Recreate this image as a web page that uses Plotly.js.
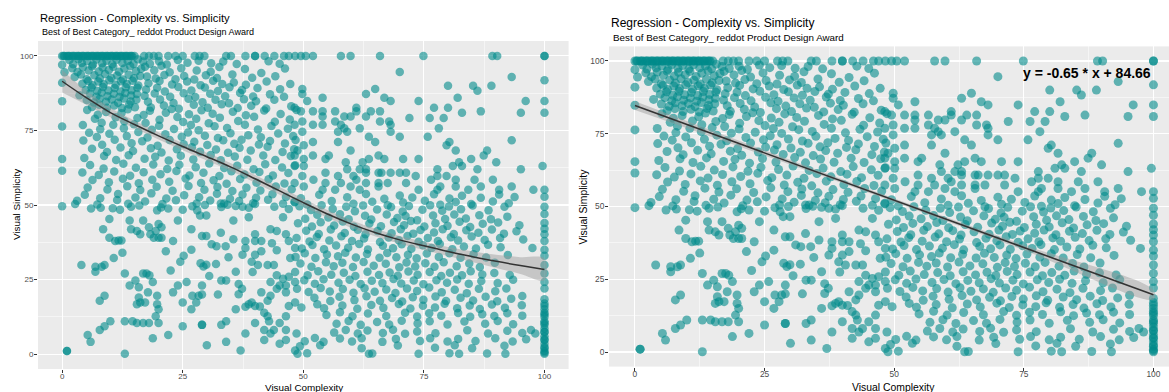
<!DOCTYPE html>
<html>
<head>
<meta charset="utf-8">
<script src="https://cdn.plot.ly/plotly-3.0.1.min.js"></script>
<style>
  html, body { margin: 0; padding: 0; background: #ffffff; }
  #chart { width: 1169px; height: 392px; }
</style>
</head>
<body>
<div id="chart"></div>
<script>
// Ratings: [visual complexity, visual simplicity]
const ratingsTop = [
  [0,100],[0.5,100],[1,100],[1.5,100],[2,100],[2.5,100],[3,100],[3.5,100],[4,100],[4.5,100],[5,100],[5.5,100],
  [6,100],[6.5,100],[7,100],[7.5,100],[8,100],[8.5,100],[9,100],[9.5,100],[10,100],[10.5,100],[11,100],[11.5,100],
  [12,100],[12.5,100],[13,100],[13.5,100],[14,100],[14.5,100],[15,100],[0.3,100],[1.3,100],[2.3,100],[3.3,100],[4.3,100],
  [5.3,100],[6.3,100],[7.3,100],[8.3,100],[9.3,100],[10.3,100],[11.3,100],[12.3,100],[13.3,100],[14.3,100],
  [17,100],[18,100],[19,100],[20,100],[22,100],
  [23.5,100],[25,100],[27.5,100],[28.5,100],[29.5,100],[34,100],[35,100],[38,100],[40,100],[40,100],[42,100],[44,100],
  [46,100],[47,100],[48.3,100],[49.5,100],[50.5,100],[52,100],[57.8,100],[59.8,100],[65.9,100],[74.9,100],[89.2,100],[90.2,100]
];

const ratingsUpperLeft = [
  [0,97],[0.5,94.5],[0,91],[0,84.8],
  [1.5,98.6],[2.3,97.2],[3.4,98.9],[4.1,97.6],[5.2,98.3],[6.4,97.1],[7.1,98.8],[8.3,97.5],[9.2,98.4],[10.4,97.2],[11.3,98.7],[12.5,97.6],[13.6,98.3],[14.8,97.3],[15.7,98.9],
  [2.1,95.9],[3.2,94.6],[4.3,96.2],[5.5,95.1],[6.2,96.5],[7.6,94.8],[8.4,96.1],[9.7,95.3],[10.6,96.4],[11.8,94.7],[12.9,95.8],[14.1,96.6],[15.3,94.9],[16.4,95.7],
  [2.6,92.9],[3.9,93.8],[5.1,92.2],[6.7,93.5],[7.8,92.4],[8.9,93.9],[10.2,92.6],[11.4,93.4],[12.6,92.1],[13.8,93.7],[14.9,92.5],[16.2,93.3],
  [4.2,90.7],[5.4,91.6],[6.3,90.2],[7.5,91.4],[8.6,90.5],[9.8,91.8],[11.1,90.3],[12.2,91.5],[13.4,90.6],[14.6,91.7],[15.8,90.1],
  [4.9,88.6],[6.1,89.4],[7.3,88.2],[8.5,89.6],[9.6,88.4],[10.9,89.2],[12.1,88.1],[13.2,89.5],[14.4,88.5],[15.6,89.3],
  [3.6,86.8],[5.8,87.4],[7.1,86.3],[8.2,87.7],[9.4,86.5],[10.7,87.3],[11.9,86.2],[13.1,87.6],[14.3,86.7],[15.5,87.2],
  [5.1,85.2],[6.6,84.4],[7.8,85.6],[9.1,84.6],[10.3,85.4],[11.6,84.3],[12.8,85.7],[14.2,84.7],[15.4,85.3],
  [6.2,82.9],[7.7,83.6],[9.3,82.6],[10.8,83.4],[12.4,82.5],[13.9,83.7],[15.1,82.8],
  [16.8,98.1],[18.2,97.4],[20.1,98.2],[21.7,97.1],[24,98.6],[26,97.7],[28.3,98.4],[30.9,97.5],[33.4,98.1],[36.2,97.3],[42.8,98.2],[45.1,97.4],
  [17.2,96.4],[19.1,95.2],[20.6,96.7],[22.3,94.5],[24.7,95.9],[27.9,95.1],[30.8,94.7],[32.6,96.3],[37.9,95.6],[41.3,94.3],[46.2,95.8],
  [17.6,93.1],[19.4,92.4],[21.2,93.6],[23.5,92.2],[25.3,93.3],[27.4,92.1],[29.8,93.5],[32.1,92.6],[35.3,93.8],[39.4,92.7],[44.2,93.2],
  [17.9,90.8],[20.2,91.6],[22.8,90.4],[25.9,91.4],[28.7,90.2],[31.3,91.7],[33.2,90.6],[35.6,91.1],[38.1,90.3],[42.4,91.4],[47.3,90.6],
  [17.4,88.7],[19.7,89.3],[21.3,88.1],[24.1,89.6],[26.8,88.4],[29.6,89.4],[32.3,88.2],[34.7,89.5],[37.3,88.6],[40.5,89.2],[45.2,88.8],
  [17.1,86.6],[19.2,87.4],[22.4,86.3],[25.2,87.5],[27.6,86.2],[30.7,87.3],[33.8,86.5],[36.9,87.6],[39.6,86.4],[43.1,87.1],[46,86.3],
  [17.8,84.6],[20.3,85.4],[23.1,84.2],[26.2,85.6],[29.1,84.5],[31.8,85.3],[34.6,84.1],[37.7,85.5],[40.2,84.8],[44,85.3],
  [18.4,82.7],[21.1,83.4],[24.2,82.3],[27.3,83.6],[30.2,82.6],[33.1,83.8],[36.4,82.5],[39.2,83.3],[42.3,82.4],[47.5,83.1],
  [5.2,81.9],[7.4,80.3],[9.1,81.2],[12.3,80.8],[13.6,82.1],[16.9,80.2],[18.2,81.6],[21.5,80.9],[22.7,82.2],[26.3,80.4],[28.9,81.8],[31.2,80.6],[35.4,81.3],[38.1,80.1],[41.9,81.7],[45.3,80.5],[48.6,81.9],
  [6.8,78.9],[8.2,77.6],[11.1,79.4],[12.9,78.1],[15.6,79.2],[17.3,77.5],[20.2,78.6],[23.9,79.5],[25.1,77.8],[27.8,78.9],[30.4,77.4],[32.7,79.3],[36.5,78.2],[39.8,79.6],[44.1,77.9],[47.2,78.7],
  [0,76.3],[4.3,76.8],[7.9,75.4],[10.6,76.9],[12.8,75.7],[14.9,77.1],[18.6,75.2],[20.1,76.6],[23.2,75.5],[26.7,76.8],[28.3,75.1],[31.6,76.4],[34.2,75.8],[37.9,76.9],[40.6,75.3],[43.4,76.5],[46.8,75.6],
  [5.6,74.2],[7.2,72.8],[9.8,73.9],[13.4,73.1],[15.8,74.5],[17.7,72.6],[21.4,73.7],[24.8,72.9],[26.1,74.3],[29.6,73.2],[32.3,72.5],[34.9,74.1],[38.6,73.4],[41.2,72.7],[44.8,74],[47.9,73.1],
  [4.4,71.6],[8.3,70.2],[10.9,71.9],[14.4,70.7],[16.6,71.4],[19.8,69.9],[22.3,71.8],[25.2,70.4],[27.4,71.2],[30.1,70.1],[33.4,71.7],[35.7,70.5],[37.2,71.9],[40.8,70.3],[43.1,71.5],[46.2,70.6],[48.4,71.8],
  [6.2,68.9],[9.3,67.8],[12.1,69.3],[14.7,68.1],[18.4,69],[20.6,67.6],[23.8,68.7],[26.9,69.4],[28.6,67.9],[31.9,68.6],[34.4,67.5],[36.8,69.2],[39.1,68.3],[42.6,69.5],[45.7,67.8],[48.1,68.7],
  [0,65.4],[4.6,65.8],[8.7,66.4],[11.2,65.1],[13.8,66.7],[17.1,65.5],[19.3,66.2],[22.1,64.9],[24.6,66.5],[27.2,65.3],[30.8,66.8],[32.9,65],[35.8,66.3],[38.4,65.2],[41.7,66.6],[44.2,65.1],[47.4,66.4],
  [5.8,63.4],[8.6,62.2],[12.7,63.8],[15.3,62.5],[18.9,63.6],[21.8,62.1],[24.3,63.5],[27.7,62.7],[30.5,63.9],[33.6,62.4],[36.3,63.2],[39.7,62],[42.1,63.7],[45.6,62.6],[48.3,63.3],
  [0,61.5],[4.2,60.9],[7.6,60.1],[10.8,61.2],[14.1,59.8],[16.9,61],[20.4,60.3],[23.7,61.4],[26.4,59.9],[29.3,60.8],[32.6,59.7],[35.1,61.3],[37.8,60.2],[40.9,61.1],[43.7,59.9],[46.9,60.7],
  [6.3,58.4],[9.7,57.6],[12.6,58.8],[15.9,57.3],[18.7,58.5],[22.2,57.8],[25.6,58.9],[28.8,57.4],[31.4,58.3],[34.1,57.1],[36.9,58.7],[40.3,57.5],[42.8,58.6],[46.1,57.2],
  [5.3,55.9],[9.4,55.2],[13.5,56.3],[16.2,55],[19.6,56.1],[22.9,54.8],[26.2,56.4],[29.5,55.1],[32.2,56],[35.3,54.7],[38.2,55.8],[41.1,54.9],[44.3,56.2],[47.6,55.3],
  [4.7,53.4],[7.9,52.3],[11.6,53.7],[15.2,52.5],[18.5,53.9],[21.6,52.2],[25.3,53.3],[28.4,52.6],[32.1,53.8],[34.8,52.1],[37.4,53.5],[40.2,52.4],[43.6,53.6],[46.4,52.7],
  [3.1,51.4],[7.3,50.2],[11.4,51.7],[13.7,50.4],[17.2,51.2],[20.8,50.3],[23.6,51.6],[27.9,50.5],[30.7,51.5],[34.3,50.1],[36.7,51.3],[39.6,50.6],[42.7,51.8],[45.8,50.4],[48.2,51.1],
  [0,49.6],[2.7,50.3],[6,48.8],[8,49.1],[10.5,48.9],[12,48.4],[14.3,49.4],[16,49.8],[20.5,49.2],[22,48.8],[25,48.4],[27,49.6],[29.6,50],[33,49.3],[36,49.7],[38.7,49.1],[40,50.3],[44,49.4],[47,48.7]
];

const ratingsLowerLeft = [
  [9.8,45.3],[8.5,41.9],[9.8,39],[11,37.9],[11.7,38.1],[12.3,38.1],[14,44.8],[14.3,41.9],[15.5,41.3],[16.8,44.8],[16.2,40.2],[18,42.5],
  [18.3,40.2],[19,39],[20,39],[20.6,39],[19.7,48.2],[20,43.6],[19.4,41.3],[20.6,42.5],[23,37.9],[24,44.8],[26.8,41.9],[28,48.2],
  [28.6,46.5],[29.9,46.5],[29,39.6],[29.9,39.6],[31,36.8],[32,36.2],[32.9,40.7],[33.9,36.2],[32.9,50.5],[33.6,50.5],[35.5,44.8],[37.4,49.4],
  [38.7,45.9],[40,40.2],[38,37.9],[40,37.9],[41.3,37.9],[38,35.6],[37.4,33.3],[40,33.3],[41.3,34.5],[39.3,31],[40.6,29.9],[42.6,29.9],
  [43.9,29.9],[43.2,41.9],[44.5,41.3],[45.8,45.9],[46.4,40.2],[47,37.9],[48.3,35.6],[47.3,32.2],[44.5,26.4],[45.8,25.3],[47,25.9],[43.2,24.2],
  [45.1,23],[46.4,23],[48.3,24.2],[43.2,19.6],[44.5,21.9],[46.4,20.7],[47,16.1],[48.3,17.3],[46.4,12.7],[45.1,10.4],[46.4,8.1],[43.9,8.1],
  [41.9,4.7],[43.2,6.9],[45.1,3.5],[46.4,4.7],[48.6,6.9],[48.3,1.2],
  [4,29.9],[6.9,29.3],[8.2,29.3],[8.8,29.9],[6.9,27.6],[10.7,32.2],[13,27],[14,23],[15.2,24.7],[16.8,27],[17.5,27],[18.1,26.4],
  [18.8,24.2],[15.9,22.4],[16.2,17.3],[15.5,16.7],[17.2,17.3],[15.9,19],[17.8,20.7],[19.7,19.6],[19.7,16.7],[20,15],[19.4,12.7],[20,10.4],
  [18,10.4],[16.8,10.4],[15.5,10.4],[14.6,11],[13,11],[10,11],[8.8,9.3],[7.8,8.1],[8.8,19.6],[7.8,17.9],[5.3,6.4],[5.9,4.1],
  [13,0.1],[1,1],[1,1],[18.8,5.3],[22,6.4],[25,9.3],[23,20.7],[24,23],[25.8,24.2],[25,17.3],[27,19.6],[26.8,15],
  [27.8,17.3],[28.3,19.6],[29,23],[29,20],[29,9.8],[29,9.8],[30,3],[33,9.8],[34,11],[34,4.1],[33,24.7],[34,24.7],
  [32.3,20],[36,27.6],[36.6,23.5],[36.6,20.1],[37.3,21.9],[36,15],[38,15.9],[38.7,16.7],[39.3,17.3],[40,16.1],[40,10.4],[41,16],
  [41.9,13.9],[42.6,12.7],[42.9,11],[41.9,8.1],[38,6.9],[37,1.2],[41.3,20.7],[42.6,17.9],[28.7,30.5],[29.9,30],[31.9,30.2],[29.3,29.4],
  [25.2,33],[26.8,35],[22.5,28],[34.5,32.5],[35.5,38.5],[24.5,31],[21.5,34.5],[12.5,34],[44.5,34.8],[43.5,37.2],[30.5,26.2],[39.5,27.5]
];

const ratingsUpperRight = [
  [70,94.6],[93.2,92.9],[80,90],[85.2,90],[89,90],[49.8,88.9],[64.9,88.9],[86.1,88.3],[49.8,87.2],[63,87.2],[54,86],[66.8,86],
  [82,86],[50.8,84.9],[68.1,84.9],[73.9,84.9],[96.1,84.9],[48.2,82.6],[61,82.6],[77.1,82.6],[80,82.6],[49.5,81.4],[52,81.4],[54,81.4],
  [56.6,81.4],[61,81.4],[64,81.4],[65.9,81.4],[86.8,81.4],[82.9,80.9],[95.1,80.9],[54,79.7],[58.5,79.7],[59.8,79.7],[63,79.7],[72,79.2],
  [76.2,79.2],[79.1,79.2],[49.8,78],[56.6,78],[65.9,78],[67.8,78],[48.2,76.9],[52,76.9],[54,76.9],[57.8,76.9],[68.1,76.9],[58.5,75.7],
  [61.7,75.7],[78.1,75.7],[49.8,74.6],[57.2,74.6],[59.1,74.6],[68.1,74.6],[63.6,72.9],[70,72.9],[75.8,72.9],[93.2,71.7],[52,71.1],[57.2,71.1],
  [64.9,71.1],[80.3,71.1],[50.1,70],[79.7,70],[48.8,68.3],[59.8,68.3],[81.6,68.3],[88.1,68.3],[48.2,66.6],[52,66.6],[55.3,66.6],[65.6,66.6],
  [87.4,66.6],[50.1,65.4],[54.6,65.4],[63.6,65.4],[66.8,65.4],[70.7,65.4],[73.9,65.4],[84.8,65.4],[58.8,64.3],[62.3,64.3],[82.3,64.3],[90,64.3],
  [48.2,63.1],[50.1,63.1],[81,63.1],[82.9,63.1],[59.1,62],[61.7,62],[63,62],[77.8,62],[86.1,62],[95.1,62],[54.6,60.8],[63,60.8],
  [65.6,60.8],[66.2,60.8],[68.1,60.8],[70,60.8],[71.3,60.8],[49.8,59.7],[57.2,59.7],[60.4,59.7],[73.3,59.7],[77.8,59.7],[79.7,59.7],[52.1,58.5],
  [61,58.5],[76.5,58.5],[81.6,58.5],[85.5,58.5],[89.3,58.5],[48.2,57.4],[54.6,57.4],[57.8,57.4],[63,57.4],[65.6,57.4],[67.5,57.4],[71.3,57.4],
  [50.1,56.2],[59.8,56.2],[65.6,56.2],[78.4,56.2],[81.6,56.2],[86.8,56.2],[93.2,56.2],[54,55.1],[56.6,55.1],[61.7,55.1],[73.9,55.1],[77.8,55.1],
  [84.2,55.1],[90.6,55.1],[97.7,55.1],
  [49.5,52.3],[53.3,53.4],[59.1,52.6],[63,53.7],[66.8,52.1],[70,53.2],[72.6,52.5],[77.1,53.6],[80.3,52.2],[82.9,53.1],[86.8,52.4],[90.6,53.5],[93.8,52.7],
  [48.2,50.9],[50.8,50.2],[55.9,51.3],[60.4,50.4],[64.3,51.1],[67.5,49.9],[70.7,50.8],[75.2,51.4],[78.4,50.1],[81.6,51],[84.8,50.3],[89.3,51.2],[92.6,50.6]
];

const ratingsLowerRight = [
  [49.2,49.6],[51.6,48.3],[53.8,49.9],[56.1,48.7],[58.9,49.4],[60.7,47.9],[62.4,49.8],[65.3,48.5],[68.2,49.3],[70.6,47.8],[71.9,49.7],[74.7,48.4],[76.3,49.9],[78.8,48.1],[80.2,49.5],[82.7,48.6],[85.1,49.8],[88.4,48.2],[91.7,49.4],
  [50.4,45.4],[52.9,46.7],[55.2,45.8],[57.6,46.9],[59.4,45.2],[62.8,46.4],[64.1,45.1],[67.3,46.8],[69.5,45.6],[71.2,46.3],[73.6,44.9],[76.9,46.5],[79.4,45.3],[81.3,46.8],[83.7,45.5],[86.5,46.6],[88.9,45.2],[92.3,46.1],
  [48.9,43.9],[51.8,42.8],[53.6,44.2],[56.4,43.1],[58.2,44.5],[60.5,42.7],[63.7,43.8],[66.1,42.9],[68.8,44.3],[70.9,43.2],[72.3,44.6],[75.1,42.8],[77.4,43.9],[79.9,43],[82.4,44.4],[84.6,42.6],[87.2,43.7],[90.4,44.1],[94.8,43.2],
  [50.6,41.4],[53.2,40.3],[55.7,41.8],[58.6,40.6],[61.3,41.7],[62.9,40.2],[65.4,41.3],[68.3,40.5],[70.2,41.9],[72.8,40.4],[74.3,41.6],[77.1,40.8],[78.9,41.9],[81.2,40.3],[83.8,41.5],[86.3,40.7],[89.1,41.8],[91.6,40.4],[94.2,41.2],
  [48.6,38.9],[51.3,37.8],[52.8,39.3],[55.4,38.1],[57.9,39.5],[60.1,37.9],[62.6,38.8],[65.9,37.6],[67.7,39.1],[69.8,38.2],[71.6,39.6],[73.9,37.7],[75.8,38.9],[77.9,37.9],[80.6,39.2],[82.1,38.1],[84.9,39.4],[87.6,38.3],[90.8,38.9],[95.6,38.4],
  [49.7,35.4],[51.9,36.6],[54.3,35.2],[56.8,36.4],[59.3,35.7],[61.6,36.9],[63.4,35.1],[66.5,36.3],[68.6,35.5],[70.4,36.8],[72.4,35.3],[74.8,36.5],[76.6,35.6],[78.3,36.9],[80.9,35.2],[83.3,36.1],[85.8,35.4],[88.3,36.7],[90.9,35.8],[97.5,35.6],
  [48.4,32.6],[50.3,33.8],[52.5,32.2],[54.9,33.4],[57.2,32.8],[58.7,34],[60.9,32.4],[63.2,33.6],[65.8,32.3],[67.4,33.9],[69.3,32.5],[71.7,33.3],[73.5,32.1],[75.6,33.7],[78.1,32.6],[80.3,33.8],[82.6,32.3],[85.3,33.5],[87.9,32.4],[92.4,33.2],
  [49.4,30.4],[51.7,29.3],[54.7,30.8],[56.3,29.5],[58.1,30.6],[60.3,29.2],[62.5,30.9],[64.6,29.6],[67.1,30.3],[69.9,29.1],[71.4,30.7],[73.2,29.4],[75.3,30.5],[77.2,29.3],[79.1,30.8],[81.8,29.5],[84.4,30.4],[86.6,29.2],[89.7,30.6],
  [48.3,27.5],[50.9,26.4],[53.1,27.8],[55.8,26.6],[58.4,27.3],[60.8,26.2],[63.3,27.6],[65.7,26.5],[67.9,27.4],[69.6,26.3],[71.8,27.7],[73.7,26.6],[76.2,27.5],[78.6,26.2],[80.4,27.3],[82.9,26.4],[84.7,27.8],[87.1,26.7],[89.6,27.2],[92.8,26.5],
  [50.2,24.8],[52.4,23.6],[54.2,25.1],[57.3,23.9],[59.6,24.9],[61.9,23.5],[64.2,24.6],[66.4,23.8],[68.7,25.2],[70.3,23.7],[72.9,24.7],[74.9,23.4],[77.6,24.8],[79.8,23.9],[81.9,25],[84.3,23.6],[86.9,24.5],[90.3,23.8],[93.5,24.9],
  [48.7,21.9],[51.1,20.8],[53.6,22.2],[55.5,21],[58.2,21.8],[60.4,20.6],[62.7,22.1],[64.8,20.9],[67.2,21.7],[69.1,20.5],[71.5,22],[73.6,21.2],[76.1,22.3],[78.7,20.7],[81.4,21.6],[83.9,20.4],[86.4,21.9],[89.8,21.1],[92.1,22],
  [52.3,18.9],[55.6,17.8],[57.5,19.2],[60.6,18.1],[63.1,19.4],[65.9,17.9],[68.4,18.8],[70.5,17.6],[72.7,19.1],[74.9,18.2],[77.4,19.3],[79.6,17.8],[82.6,18.9],[85.2,18],[87.8,19.2],[90.2,17.7],[93.1,18.6],[95.4,19.5],
  [49.6,15.6],[52.9,16.7],[54.3,15.4],[58.1,16.3],[61.2,15.2],[64.1,16.5],[66.6,15.5],[69.8,16.8],[72.2,15.3],[74.8,16.2],[77.3,15.6],[79.3,16.9],[81.9,15.4],[84.5,16.3],[86.6,15.1],[89.1,16.6],[91.8,15.5],[95.3,16.4],
  [54.8,13.1],[57.6,14],[60.2,12.7],[63.4,13.6],[67.2,12.8],[71.1,13.9],[73.6,12.6],[76.1,13.7],[78.6,12.9],[82.1,13.8],[84.6,12.5],[87.1,13.4],[89.6,12.8],[92.3,13.7],[95.4,12.9],
  [56.9,10.2],[59.4,11.1],[61.9,9.8],[65.3,10.8],[67.8,9.9],[70.4,11.2],[73.7,10.3],[76.2,11],[79.9,9.9],[83.4,10.9],[87.7,10.2],[90.3,11.1],[93.5,10],
  [56.4,7.2],[58.8,8.1],[61.3,6.9],[63.3,7.9],[66.5,7.1],[68.6,8.2],[71.1,6.8],[73.6,7.6],[77.4,7],[84,8],[88.3,6.9],[92.3,7.8],[95.4,7.1],[97.2,8.1],[98.1,6.9],
  [50.3,4.3],[52.4,5.4],[54.2,4.1],[57.6,5.2],[60.1,4.2],[62.1,5.3],[66.4,4.1],[69.2,5.1],[74.2,4.4],[76.3,5.3],[79.9,4.2],[82.1,5.1],[85.7,4.4],[89.8,5.3],[93.4,4.2],[96.2,5],
  [49.3,2.6],[53.5,3],[62.1,2],[69.6,2.9],[77.3,2.1],[81.4,3],[85,2],[91.7,2.8],
  [48.8,0.1],[50.8,0.3],[63.6,0.1],[64.3,0.2],[73.9,0.1],[80.3,0.3],[82.3,0.1],[88.1,0.2],[91.9,0.1]
];

const ratingsEdge = [
  [100,100],[100,100],[100,91.8],[100,84.9],[100,80.9],[99.6,63.1],[100,55.1],[100,52.8],
  [100,49.4],[100,47],[100,44],[100,42],[100,40.2],[100,37.9],[100,35],[100,33],[100,29.9],[100,27],[100,24.2],[100,22],
  [100,18.4],[100,17],[100,16.1],[100,15],[100,13.9],[100,13.3],[100,12.5],[100,11],[100,10.4],[100,9.8],[100,8.6],[100,7.5],
  [100,7.3],[100,6],[100,4.9],[100,4.7],[100,3.5],[100,2.4],[100,2],[100,1],[100,0.5],[100,0.1]
];

// Local regression (loess) fit and its confidence half-width
const loessX  = [0, 5, 10, 15, 20, 25, 30, 35, 40, 45, 50, 55, 60, 65, 70, 75, 80, 85, 90, 95, 100];
const loessY  = [91.5, 86, 81, 77, 73.2, 69.6, 66.2, 62.7, 58.8, 54.8, 50.8, 47, 43.6, 40.7, 38.3, 36.3, 34.4, 32.7, 31.1, 29.7, 28.4];
const loessSE = [3.8, 2.4, 1.6, 1.3, 1.2, 1.2, 1.3, 1.3, 1.3, 1.3, 1.3, 1.3, 1.3, 1.3, 1.3, 1.4, 1.5, 1.8, 2.2, 2.8, 3.6];

// Linear model coefficients and confidence half-width along x
const slope = -0.65;
const intercept = 84.66;
const linearX  = [0, 25, 50, 75, 100];
const linearSE = [1.5, 0.9, 0.6, 0.9, 1.6];

const ratings = [].concat(ratingsTop, ratingsUpperLeft, ratingsLowerLeft, ratingsUpperRight, ratingsLowerRight, ratingsEdge);
const complexity = ratings.map(r => r[0]);
const simplicity = ratings.map(r => r[1]);

const W = 1169, H = 392;
const px = v => v / W;
const py = v => 1 - v / H;

const pointColor = 'rgba(0,139,139,0.6)';
const ribbonColor = 'rgba(153,153,153,0.45)';
const fitColor = '#333333';

function band(xs, center, half) {
  const up = center.map((c, i) => c + half[i]);
  const lo = center.map((c, i) => c - half[i]);
  return { x: xs.concat(xs.slice().reverse()), y: up.concat(lo.slice().reverse()) };
}

const loessBand = band(loessX, loessY, loessSE);
const linearY = linearX.map(x => intercept + slope * x);
const linearBand = band(linearX, linearY, linearSE);

const traces = [
  { type: 'scatter', mode: 'markers', x: complexity, y: simplicity, xaxis: 'x', yaxis: 'y',
    marker: { color: pointColor, size: 8.5, line: { width: 0 } }, hoverinfo: 'skip' },
  { type: 'scatter', mode: 'lines', x: loessBand.x, y: loessBand.y, xaxis: 'x', yaxis: 'y',
    fill: 'toself', fillcolor: ribbonColor, line: { width: 0, shape: 'spline' }, hoverinfo: 'skip' },
  { type: 'scatter', mode: 'lines', x: loessX, y: loessY, xaxis: 'x', yaxis: 'y',
    line: { color: fitColor, width: 1.5, shape: 'spline' }, hoverinfo: 'skip' },

  { type: 'scatter', mode: 'markers', x: complexity, y: simplicity, xaxis: 'x2', yaxis: 'y2',
    marker: { color: pointColor, size: 9, line: { width: 0 } }, hoverinfo: 'skip' },
  { type: 'scatter', mode: 'lines', x: linearBand.x, y: linearBand.y, xaxis: 'x2', yaxis: 'y2',
    fill: 'toself', fillcolor: ribbonColor, line: { width: 0, shape: 'spline' }, hoverinfo: 'skip' },
  { type: 'scatter', mode: 'lines', x: linearX, y: linearY, xaxis: 'x2', yaxis: 'y2',
    line: { color: fitColor, width: 1.6 }, hoverinfo: 'skip' }
];

const tickVals = [0, 25, 50, 75, 100];
const font = 'Liberation Sans, Arial, sans-serif';

function axis(domain, range, fontSize, anchor, standoff) {
  return {
    domain: domain, range: range, anchor: anchor,
    tickvals: tickVals, ticktext: tickVals.map(String),
    ticks: 'outside', ticklen: 3, tickwidth: 1, tickcolor: '#333333',
    ticklabelstandoff: standoff,
    tickfont: { family: font, size: fontSize, color: '#4D4D4D' },
    showgrid: true, gridcolor: '#FFFFFF', gridwidth: 1.1,
    minor: { dtick: 12.5, tick0: 0, showgrid: true, gridcolor: '#FFFFFF', gridwidth: 0.5, ticks: '' },
    zeroline: false, showline: false, fixedrange: true
  };
}

const layout = {
  width: W, height: H,
  margin: { l: 0, r: 0, t: 0, b: 0 },
  paper_bgcolor: '#FFFFFF', plot_bgcolor: '#EBEBEB',
  showlegend: false, hovermode: false,
  xaxis:  axis([px(38), px(568.6)], [-5, 105], 8, 'y', -4),
  yaxis:  axis([py(369), py(41)], [-5, 105], 8, 'x', -1),
  xaxis2: axis([px(609), 1], [-5, 103], 8.4, 'y2', -4),
  yaxis2: axis([py(366.6), py(46.4)], [-5, 105], 8.4, 'x2', -1),
  annotations: [
    { text: 'Regression - Complexity vs. Simplicity', xref: 'paper', yref: 'paper', x: px(38), y: py(18),
      xanchor: 'left', yanchor: 'middle', showarrow: false, font: { family: font, size: 11.2, color: '#000' } },
    { text: 'Best of Best Category_ reddot Product Design Award', xref: 'paper', yref: 'paper', x: px(40), y: py(32),
      xanchor: 'left', yanchor: 'middle', showarrow: false, font: { family: font, size: 9, color: '#000' } },
    { text: 'Visual Complexity', xref: 'paper', yref: 'paper', x: px(303.5), y: py(387),
      xanchor: 'center', yanchor: 'middle', showarrow: false, font: { family: font, size: 9.9, color: '#000' } },
    { text: 'Visual Simplicity', xref: 'paper', yref: 'paper', x: px(16), y: py(205), textangle: -90,
      xanchor: 'center', yanchor: 'middle', showarrow: false, font: { family: font, size: 9.9, color: '#000' } },

    { text: 'Regression - Complexity vs. Simplicity', xref: 'paper', yref: 'paper', x: px(609), y: py(22.5),
      xanchor: 'left', yanchor: 'middle', showarrow: false, font: { family: font, size: 12, color: '#000' } },
    { text: 'Best of Best Category_ reddot Product Design Award', xref: 'paper', yref: 'paper', x: px(611), y: py(37.5),
      xanchor: 'left', yanchor: 'middle', showarrow: false, font: { family: font, size: 9.8, color: '#000' } },
    { text: 'Visual Complexity', xref: 'paper', yref: 'paper', x: px(893), y: py(387),
      xanchor: 'center', yanchor: 'middle', showarrow: false, font: { family: font, size: 10.4, color: '#000' } },
    { text: 'Visual Simplicity', xref: 'paper', yref: 'paper', x: px(583), y: py(206.5), textangle: -90,
      xanchor: 'center', yanchor: 'middle', showarrow: false, font: { family: font, size: 10.4, color: '#000' } },

    { text: '<b>y = ' + slope.toFixed(2) + ' * x + ' + intercept.toFixed(2) + '</b>', xref: 'x2', yref: 'y2',
      x: 100, y: 95.8, xanchor: 'right', yanchor: 'middle', showarrow: false,
      font: { family: font, size: 14, color: '#000' } }
  ]
};

Plotly.newPlot('chart', traces, layout, { staticPlot: true, displayModeBar: false });
</script>
</body>
</html>
